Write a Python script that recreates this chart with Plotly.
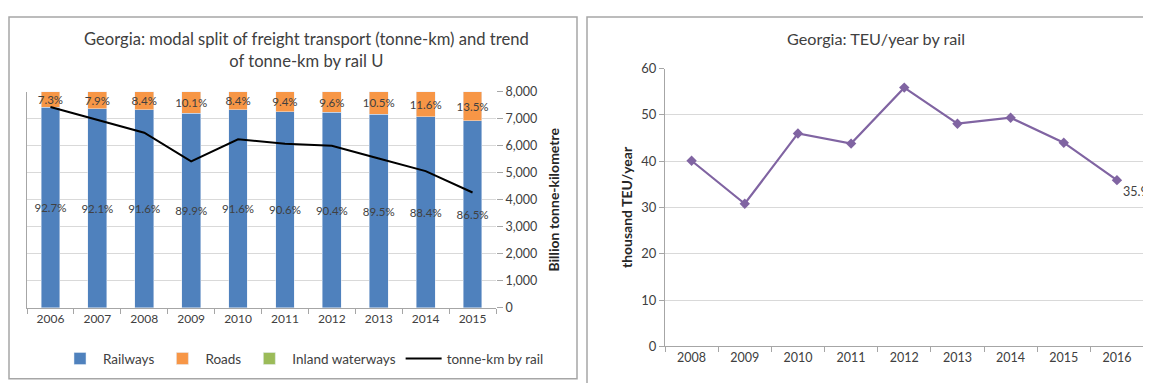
import plotly.graph_objects as go

# ---------------- data ----------------
years_left = ["2006", "2007", "2008", "2009", "2010", "2011", "2012", "2013", "2014", "2015"]
railways_pct = [92.7, 92.1, 91.6, 89.9, 91.6, 90.6, 90.4, 89.5, 88.4, 86.5]
roads_pct = [7.3, 7.9, 8.4, 10.1, 8.4, 9.4, 9.6, 10.5, 11.6, 13.5]
waterways_pct = [0, 0, 0, 0, 0, 0, 0, 0, 0, 0]
tonne_km_rail = [7430, 6950, 6480, 5420, 6240, 6070, 6000, 5530, 5060, 4270]

years_right = ["2008", "2009", "2010", "2011", "2012", "2013", "2014", "2015", "2016"]
teu_rail = [40.1, 30.8, 46.0, 43.8, 55.9, 48.1, 49.4, 44.0, 35.9]

# page body keeps its default 8px margin, so the figure fills the rest of the window
OFF = 8
W, H = 1151 - 2 * OFF, 391 - 2 * OFF
FONT = "Lato"
TXT = "#404040"
GRID = "#d9d9d9"
AX = "#a6a6a6"


def px_x(p):
    return (p - OFF) / W


def px_y(p):
    return 1 - (p - OFF) / H


fig = go.Figure()

fig.add_trace(go.Bar(
    x=years_left, y=railways_pct, name="Railways", marker_color="#4F81BD",
    width=0.4, text=[f"{v:.1f}%" for v in railways_pct], textposition="inside",
    insidetextanchor="middle", constraintext="none", textangle=0,
    textfont=dict(color=TXT, size=11.5, family=FONT), xaxis="x", yaxis="y",
))
fig.add_trace(go.Bar(
    x=years_left, y=roads_pct, name="Roads", marker_color="#F79646",
    width=0.4, text=[f"{v:.1f}%" for v in roads_pct], textposition="inside",
    insidetextanchor="middle", constraintext="none", textangle=0,
    textfont=dict(color=TXT, size=11.5, family=FONT), xaxis="x", yaxis="y",
))
fig.add_trace(go.Bar(
    x=years_left, y=waterways_pct, name="Inland waterways", marker_color="#9BBB59",
    width=0.4, xaxis="x", yaxis="y", textposition="none",
))
fig.add_trace(go.Scatter(
    x=years_left, y=tonne_km_rail, name="tonne-km by rail", mode="lines",
    line=dict(color="black", width=2), xaxis="x", yaxis="y2",
))

fig.add_trace(go.Scatter(
    x=years_right, y=teu_rail, mode="lines+markers+text", showlegend=False,
    line=dict(color="#8064A2", width=2.2),
    marker=dict(symbol="diamond", size=8, color="#8064A2"),
    text=[""] * (len(teu_rail) - 1) + [f"{teu_rail[-1]:.1f}"],
    textposition="bottom right", textfont=dict(color=TXT, size=12.5, family=FONT),
    xaxis="x2", yaxis="y3", cliponaxis=False,
))

fig.update_layout(
    width=W, height=H, margin=dict(l=0, r=0, t=0, b=0),
    paper_bgcolor="white", plot_bgcolor="white",
    barmode="stack",
    font=dict(family=FONT, color=TXT, size=11),
    xaxis=dict(domain=[px_x(27), px_x(496)], type="category", showline=True,
               linecolor=AX, ticks="outside", tickson="boundaries", ticklen=5,
               tickcolor=AX, tickfont=dict(size=12, color=TXT), showgrid=False,
               anchor="y"),
    yaxis=dict(domain=[px_y(313), px_y(87)], range=[0, 100], showticklabels=False,
               showgrid=False, showline=True, linecolor=AX, zeroline=False,
               anchor="x"),
    yaxis2=dict(overlaying="y", side="right", range=[0, 8000], dtick=1000,
                tickformat=",d", showgrid=True, gridcolor=GRID, zeroline=False,
                ticks="outside", ticklen=6, tickcolor=AX, showline=False,
                tickfont=dict(size=12.5, color=TXT), anchor="x",
                title=dict(text="<b>Billion tonne-kilometre</b>",
                           font=dict(size=14, color="#262626"), standoff=12)),
    xaxis2=dict(domain=[px_x(665), 1.0], type="category", range=[-0.5, 8.49],
                showline=True, linecolor=AX, ticks="outside", tickson="boundaries",
                ticklen=5, tickcolor=AX, tickfont=dict(size=12.5, color=TXT),
                showgrid=False, anchor="y3"),
    yaxis3=dict(domain=[px_y(353), px_y(63)], range=[0, 60], dtick=10,
                showgrid=True, gridcolor=GRID, zeroline=False, showline=True,
                linecolor=AX, ticks="outside", ticklen=5, tickcolor=AX,
                tickfont=dict(size=13, color=TXT), anchor="x2",
                title=dict(text="<b>thousand TEU/year</b>",
                           font=dict(size=14, color="#262626"), standoff=5)),
    legend=dict(orientation="h", x=px_x(303), xanchor="center", y=px_y(366),
                yanchor="middle", font=dict(size=13.5, color=TXT),
                traceorder="normal", itemwidth=36),
    annotations=[
        dict(text="Georgia: modal split of freight transport (tonne-km) and trend<br>of tonne-km by rail U",
             x=px_x(306), y=px_y(44), xref="paper", yref="paper", showarrow=False,
             xanchor="center", yanchor="middle",
             font=dict(size=16.6, color=TXT, family=FONT), align="center"),
        dict(text="Georgia: TEU/year by rail", x=px_x(876), y=px_y(32),
             xref="paper", yref="paper", showarrow=False,
             xanchor="center", yanchor="middle",
             font=dict(size=16.2, color=TXT, family=FONT)),
    ],
    shapes=[
        dict(type="rect", xref="paper", yref="paper", x0=px_x(9), x1=px_x(577),
             y0=px_y(387), y1=px_y(9), line=dict(color="#a6a6a6", width=1.5)),
        dict(type="rect", xref="paper", yref="paper", x0=px_x(587), x1=px_x(1170),
             y0=px_y(400), y1=px_y(9), line=dict(color="#a6a6a6", width=1.5)),
    ],
)

fig.write_html("out.html", config={"displayModeBar": False})
